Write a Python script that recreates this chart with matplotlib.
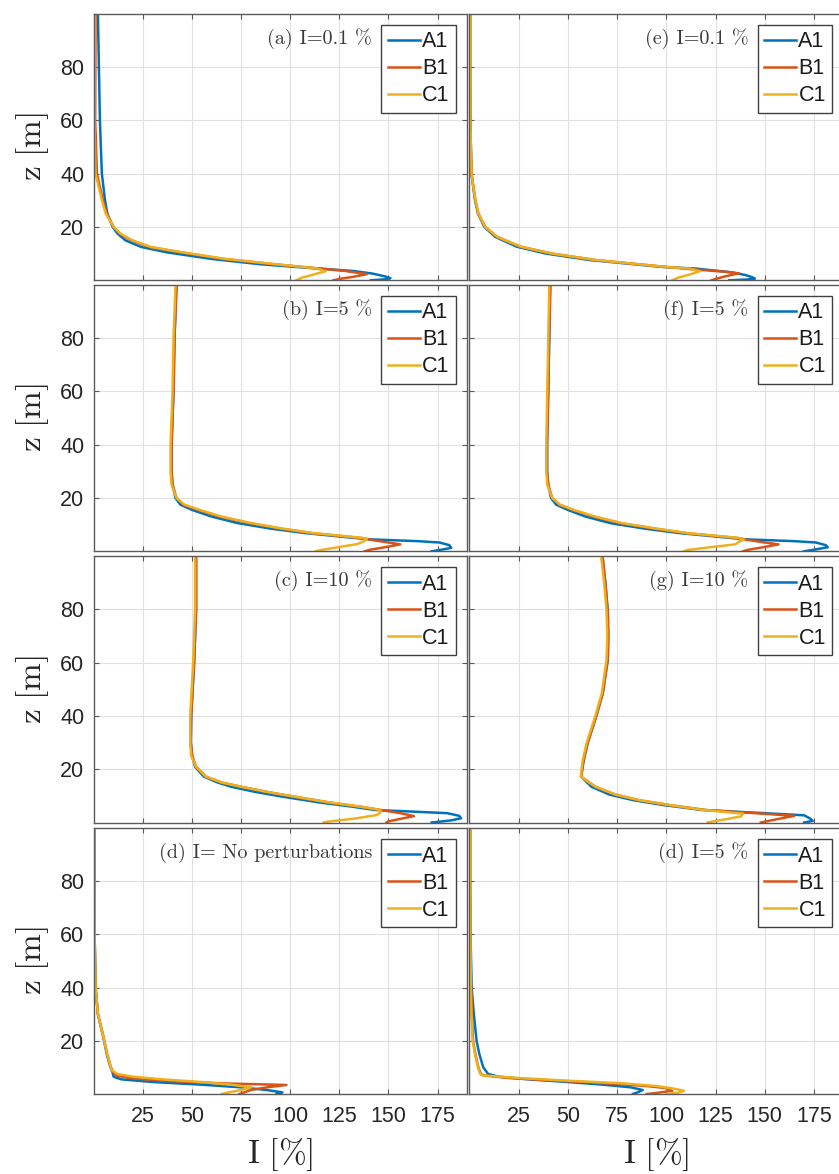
import matplotlib
matplotlib.use("Agg")
import matplotlib.pyplot as plt

plt.rcParams['mathtext.fontset'] = 'cm'
plt.rcParams['font.family'] = ['Liberation Sans', 'DejaVu Sans']

# ---------------- data (I [%] vs z [m]) ----------------
series_names = ["A1", "B1", "C1"]
series_colors = ["#0072BD", "#D95319", "#EDB120"]

left_titles = ["(a) I=0.1 %", "(b) I=5 %", "(c) I=10 %", "(d) I= No perturbations"]
right_titles = ["(e) I=0.1 %", "(f) I=5 %", "(g) I=10 %", "(d) I=5 %"]

x_ticks = [25, 50, 75, 100, 125, 150, 175]
y_ticks = [20, 40, 60, 80]

# (a) I=0.1 %
z_a_A1 = [99, 80, 60, 40, 30, 25, 20, 17.5, 15, 12.5, 10.5, 8, 6, 4.5, 3.5, 2.5, 1.5, 0.8, 0.4, 0]
I_a_A1 = [2, 2.5, 3, 4, 5.6, 6.8, 9.5, 12, 16, 24, 37, 60, 85, 112, 132, 142, 148, 151, 149, 141]
z_a_B1 = [99, 80, 60, 40, 30, 25, 20, 17.5, 15, 12.5, 10.5, 8, 6, 4.5, 3.5, 2.3, 1.3, 0.5, 0]
I_a_B1 = [0.8, 0.7, 0.6, 1.5, 4.5, 6.5, 10, 13, 19, 28, 44, 66, 92, 114, 128, 139, 132, 125, 122]
z_a_C1 = [99, 80, 60, 40, 30, 25, 20, 17.5, 15, 12.5, 10.5, 8, 6, 4.5, 3.4, 2.2, 1, 0]
I_a_C1 = [0.5, 0.3, 0.2, 0.8, 4, 6, 10, 13.5, 19.5, 29, 45, 67, 93, 113, 118, 112, 106, 103]

# (b) I=5 %
z_b_A1 = [99, 80, 60, 40, 30, 25, 20, 17.5, 15.5, 13, 10.6, 8.5, 6.8, 5.2, 4.5, 3.8, 3.3, 2.3, 1.3, 0.6, 0]
I_b_A1 = [42, 41, 40.5, 39.5, 39.5, 40, 41.5, 44, 50, 60, 73, 90, 108, 130, 140, 165, 176, 181, 182, 177, 172]
z_b_B1 = [99, 80, 60, 40, 30, 25, 20, 17.5, 15.5, 13, 10.6, 8.5, 6.8, 5, 4.2, 3.3, 2.6, 1.5, 0.5, 0]
I_b_B1 = [42, 41, 40.5, 39.5, 39.5, 40, 42, 45.5, 53, 64, 79, 95, 111, 136, 142, 150, 156, 148, 140, 138]
z_b_C1 = [99, 80, 60, 40, 30, 25, 20, 17.5, 15.5, 13, 10.6, 8.5, 6.8, 5, 4.5, 3.6, 2.7, 1.5, 0.5, 0]
I_b_C1 = [41.5, 40.5, 40, 39, 39, 39.5, 42, 46, 54, 65, 80, 96, 112, 137, 139, 137, 134, 124, 116, 113]

# (c) I=10 %
z_c_A1 = [99, 80, 60, 40, 30, 25, 20.9, 17.2, 15, 13.4, 11.5, 9.7, 7.5, 5.9, 4.7, 4, 3.5, 2.5, 1.6, 0.8, 0.3, 0]
I_c_A1 = [52, 52, 51, 49.5, 49.3, 50, 51.5, 56, 63, 70, 82, 96, 115, 132, 143, 165, 180, 186, 187, 182, 176, 172]
z_c_B1 = [99, 80, 60, 40, 30, 25, 20.9, 17.2, 15, 13.4, 11.5, 9.7, 7.5, 5.9, 4.7, 3.5, 2.4, 1.2, 0.4, 0]
I_c_B1 = [52, 52, 51, 49.5, 49.3, 50, 52, 57, 65, 75, 88, 102, 120, 136, 146, 156, 163, 155, 150, 149]
z_c_C1 = [99, 80, 60, 40, 30, 25, 20.9, 17.2, 15, 13.4, 11.5, 9.7, 7.5, 5.9, 4.7, 3.8, 2.8, 1.5, 0.3, 0]
I_c_C1 = [51.5, 51.5, 50.5, 49, 49, 49.5, 52, 57, 65, 75, 88, 102, 120, 136, 146, 146, 144, 133, 119, 117]

# (d) I= No perturbations
z_d_A1 = [99, 80, 60, 40, 30, 21.5, 15, 10.5, 8, 6.5, 5.5, 4.5, 3.5, 2.5, 1.5, 0.6, 0]
I_d_A1 = [0.2, 0.2, 0.3, 0.8, 2, 4.7, 6.5, 8.2, 9.5, 10, 14, 30, 55, 75, 88, 96, 93]
z_d_B1 = [99, 80, 60, 40, 30, 21.5, 15, 10.5, 8.5, 7, 6, 5, 4, 3.4, 2.5, 1.5, 0.5, 0]
I_d_B1 = [0.2, 0.2, 0.3, 0.8, 2, 4.8, 6.7, 8.4, 9.5, 11, 18, 35, 65, 98, 88, 80, 76, 74]
z_d_C1 = [99, 80, 60, 40, 30, 21.5, 15, 10.5, 9, 7.5, 6.5, 5.5, 4.5, 3.5, 2.5, 1.5, 0.8, 0]
I_d_C1 = [0.2, 0.2, 0.3, 0.8, 2, 4.8, 6.7, 8.4, 9, 12, 20, 35, 55, 70, 80, 75, 70, 65]

# (e) I=0.1 %
z_e_A1 = [99, 80, 60, 40, 30, 25, 20, 16.3, 12.6, 10, 7.6, 5, 4.4, 3, 2, 1.2, 0.6, 0.3, 0]
I_e_A1 = [0.3, 0.3, 0.4, 1, 2.8, 4.3, 7.6, 13, 24, 39, 61, 98, 115, 133, 140, 143.5, 145, 141, 132]
z_e_B1 = [99, 80, 60, 40, 30, 25, 20, 16.3, 12.6, 10, 7.6, 5, 4.2, 3.2, 2.6, 1.5, 0.5, 0]
I_e_B1 = [0.3, 0.3, 0.4, 1, 3, 4.5, 8, 14, 26, 42, 64, 100, 112, 130, 137, 130, 125, 123]
z_e_C1 = [99, 80, 60, 40, 30, 25, 20, 16.3, 12.6, 10, 7.6, 5, 4.4, 3.4, 2.2, 1, 0.3, 0]
I_e_C1 = [0.3, 0.3, 0.4, 1, 3, 4.5, 8, 14, 26, 42, 64, 100, 112, 117, 112, 106, 104, 103]

# (f) I=5 %
z_f_A1 = [99, 80, 60, 40, 30, 25, 20, 17.5, 15.5, 13, 10.5, 8.5, 6.8, 5.2, 4.5, 3.8, 3.3, 2.3, 1.5, 0.6, 0]
I_f_A1 = [41, 40.5, 40, 39.4, 39.4, 40, 41.4, 44, 50, 59, 72, 89, 107, 130, 140, 165, 176, 181, 182, 175, 170]
z_f_B1 = [99, 80, 60, 40, 30, 25, 20, 17.5, 15.5, 13, 10.5, 8.5, 6.8, 5, 4.2, 3.3, 2.6, 1.5, 0.5, 0]
I_f_B1 = [41, 40.5, 40, 39.4, 39.4, 40, 42, 45.5, 52.5, 63, 77, 94, 110, 136, 142, 150, 157, 149, 141, 139]
z_f_C1 = [99, 80, 60, 40, 30, 25, 20, 17.5, 15.5, 13, 10.5, 8.5, 6.8, 5, 4.4, 3.6, 2.6, 1.5, 0.5, 0]
I_f_C1 = [40.5, 40, 39.5, 39, 39, 39.5, 42, 46, 53, 64, 78, 95, 111, 137, 139.5, 137, 135, 122, 111, 109]

# (g) I=10 %
z_g_A1 = [99, 90, 79.7, 70, 60.9, 48.5, 39.7, 29.8, 23.4, 17.2, 13.4, 10.5, 8.4, 6.5, 4.7, 3.5, 2.7, 1.5, 0.6, 0]
I_g_A1 = [67.7, 69, 70.2, 70.5, 70.2, 67.7, 64.3, 60, 58, 56.7, 62, 71, 83, 99, 118, 150, 170, 173, 174.4, 170]
z_g_B1 = [99, 90, 79.7, 70, 60.9, 48.5, 39.7, 29.8, 23.4, 17.2, 13.4, 10.5, 8.4, 6.5, 4.7, 3.5, 2.5, 1.2, 0.3, 0]
I_g_B1 = [67.7, 69, 70.2, 70.5, 70.2, 67.7, 64.3, 60, 58, 56.7, 64, 74, 86, 102, 120, 145, 165, 156, 150, 148]
z_g_C1 = [99, 90, 79.7, 70, 60.9, 48.5, 39.7, 29.8, 23.4, 17.2, 13.4, 10.5, 8.4, 6.5, 4.7, 3.3, 2.3, 1.2, 0.3, 0]
I_g_C1 = [67, 68.4, 69.6, 70, 69.6, 67.2, 63.8, 59.5, 57.5, 56.5, 64, 74, 86, 102, 119, 139, 138, 130, 123, 121]

# (d) I=5 % (right column, bottom)
z_h_A1 = [99, 80, 60, 40, 30, 20, 15, 10, 7.5, 6.5, 5.5, 4.5, 3.5, 2.5, 1.5, 0.8, 0]
I_h_A1 = [0.3, 0.3, 0.5, 1.1, 2.2, 3.6, 5, 7, 9.5, 15, 30, 50, 68, 82, 88, 86, 83]
z_h_B1 = [99, 80, 60, 40, 30, 20, 15, 10, 7.5, 7, 6, 5, 4, 3, 2.2, 1.2, 0.4, 0]
I_h_B1 = [0.3, 0.3, 0.4, 0.8, 1.2, 1.8, 3, 4.5, 5.8, 7, 20, 45, 70, 90, 100, 103, 95, 90]
z_h_C1 = [99, 80, 60, 40, 30, 20, 15, 10, 7.7, 7, 6, 5, 4, 3, 2, 1.2, 0.5, 0]
I_h_C1 = [0.3, 0.3, 0.4, 0.7, 1.0, 1.6, 2.8, 4.3, 5.3, 6.5, 25, 50, 78, 95, 104, 109, 106, 100]

left_panels = [
    [(z_a_A1, I_a_A1), (z_a_B1, I_a_B1), (z_a_C1, I_a_C1)],
    [(z_b_A1, I_b_A1), (z_b_B1, I_b_B1), (z_b_C1, I_b_C1)],
    [(z_c_A1, I_c_A1), (z_c_B1, I_c_B1), (z_c_C1, I_c_C1)],
    [(z_d_A1, I_d_A1), (z_d_B1, I_d_B1), (z_d_C1, I_d_C1)],
]
right_panels = [
    [(z_e_A1, I_e_A1), (z_e_B1, I_e_B1), (z_e_C1, I_e_C1)],
    [(z_f_A1, I_f_A1), (z_f_B1, I_f_B1), (z_f_C1, I_f_C1)],
    [(z_g_A1, I_g_A1), (z_g_B1, I_g_B1), (z_g_C1, I_g_C1)],
    [(z_h_A1, I_h_A1), (z_h_B1, I_h_B1), (z_h_C1, I_h_C1)],
]

# ---------------- layout ----------------
W, H = 839, 1174
fig = plt.figure(figsize=(W / 100, H / 100), dpi=100)

col_x = [(94, 373), (469.5, 374)]
row_y = [(13.6, 280.3), (284.6, 551.3), (556.0, 822.5), (828.0, 1094.0)]

TICK_FS = 15.5
spine_col = "#5a5a5a"
txt_col = "#262626"

for c, (panels, titles) in enumerate([(left_panels, left_titles), (right_panels, right_titles)]):
    x0, w = col_x[c]
    for r in range(4):
        top, bot = row_y[r]
        ax = fig.add_axes([x0 / W, 1 - bot / H, w / W, (bot - top) / H])
        for (zz, ii), name, col in zip(panels[r], series_names, series_colors):
            ax.plot(ii, zz, color=col, lw=1.8, label=name, solid_joinstyle='round')
        ax.set_xlim(0, 190)
        ax.set_ylim(0, 100)
        ax.set_xticks(x_ticks)
        ax.set_yticks(y_ticks)
        ax.grid(True, color="#e1e1e1", lw=0.8)
        ax.set_axisbelow(True)
        ax.tick_params(direction='in', length=3.5, width=0.8, color=spine_col,
                       top=True, right=True, labelsize=TICK_FS, labelcolor=txt_col, pad=7)
        ax.tick_params(axis='x', pad=9)
        for sp in ax.spines.values():
            sp.set_color(spine_col)
            sp.set_linewidth(1.0)
        if c != 0:
            ax.set_yticklabels([])
        if r != 3:
            ax.set_xticklabels([])
        ax.text(0.745, 0.945, titles[r], transform=ax.transAxes, ha='right', va='top',
                fontsize=14.5, family='cmr10', color="#3a3a3a")
        leg = ax.legend(loc='upper right', bbox_to_anchor=(0.97, 0.958), fontsize=TICK_FS,
                        handlelength=1.5, handletextpad=0.1, labelspacing=0.28,
                        borderpad=0.3, borderaxespad=0, fancybox=False, framealpha=1)
        leg.get_frame().set_edgecolor("#404040")
        leg.get_frame().set_linewidth(1.0)
        for t in leg.get_texts():
            t.set_color("#1a1a1a")
        if c == 0:
            fig.text(33 / W, 1 - ((top + bot) / 2) / H, r'$\mathrm{z\ [m]}$', rotation=90,
                     ha='center', va='center', fontsize=24, color=txt_col)

fig.text(280 / W, 1 - 1155 / H, r'$\mathrm{I\ [\%]}$', ha='center', va='center', fontsize=24, color=txt_col)
fig.text(656 / W, 1 - 1155 / H, r'$\mathrm{I\ [\%]}$', ha='center', va='center', fontsize=24, color=txt_col)

fig.savefig("out.png", dpi=100)
